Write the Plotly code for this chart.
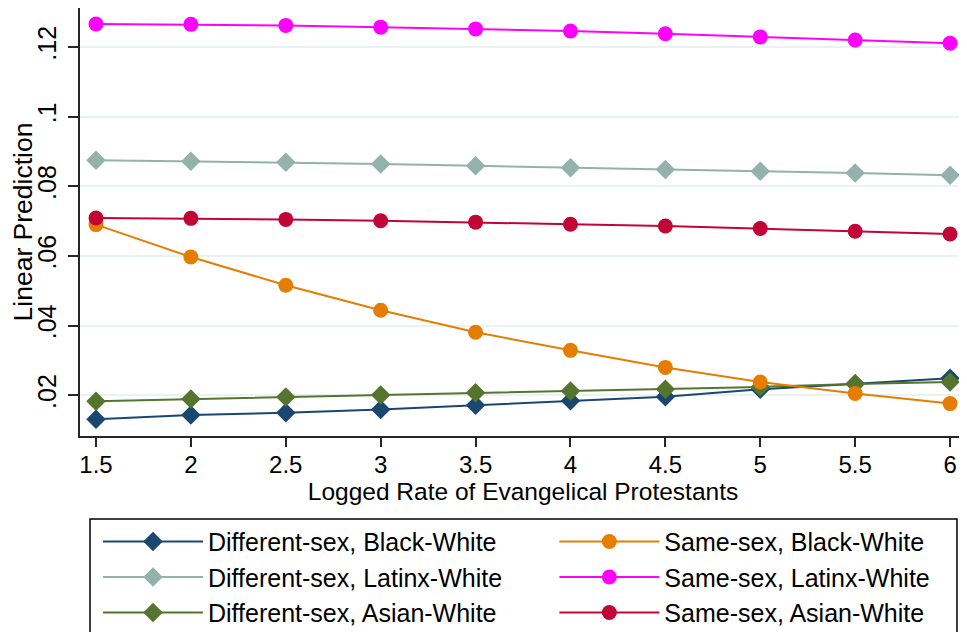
import plotly.graph_objects as go

# ---- data ----
x_vals = [1.5, 2, 2.5, 3, 3.5, 4, 4.5, 5, 5.5, 6]
diff_black = [0.0131, 0.0143, 0.0150, 0.0159, 0.0171, 0.0184, 0.0196, 0.0217, 0.0233, 0.0249]
diff_latinx = [0.0875, 0.0872, 0.0869, 0.0864, 0.0859, 0.0853, 0.0848, 0.0843, 0.0838, 0.0832]
diff_asian = [0.0183, 0.0189, 0.0195, 0.0201, 0.0207, 0.0212, 0.0217, 0.0224, 0.0232, 0.0238]
same_black = [0.0690, 0.0597, 0.0516, 0.0444, 0.0381, 0.0329, 0.0280, 0.0238, 0.0205, 0.0176]
same_latinx = [0.1266, 0.1265, 0.1262, 0.1257, 0.1252, 0.1246, 0.1238, 0.1229, 0.1220, 0.1211]
same_asian = [0.0709, 0.0708, 0.0705, 0.0701, 0.0697, 0.0691, 0.0686, 0.0679, 0.0671, 0.0663]

x_ticks = [1.5, 2, 2.5, 3, 3.5, 4, 4.5, 5, 5.5, 6]
x_tick_labels = ["1.5", "2", "2.5", "3", "3.5", "4", "4.5", "5", "5.5", "6"]
y_ticks = [0.02, 0.04, 0.06, 0.08, 0.10, 0.12]
y_tick_labels = [".02", ".04", ".06", ".08", ".1", ".12"]

series = [
    ("Different-sex, Black-White", diff_black, "#1a476f", "diamond", "legend"),
    ("Different-sex, Latinx-White", diff_latinx, "#93b2aa", "diamond", "legend"),
    ("Different-sex, Asian-White", diff_asian, "#55752f", "diamond", "legend"),
    ("Same-sex, Black-White", same_black, "#e57e00", "circle", "legend2"),
    ("Same-sex, Latinx-White", same_latinx, "#ff00ff", "circle", "legend2"),
    ("Same-sex, Asian-White", same_asian, "#c10534", "circle", "legend2"),
]

fig = go.Figure()
for name, vals, color, sym, leg in series:
    fig.add_trace(go.Scatter(
        x=x_vals, y=vals, name=name, mode="lines+markers",
        line=dict(color=color, width=2),
        marker=dict(symbol=sym, color=color, size=15),
        legend=leg, legendgroup=name, cliponaxis=False,
    ))

axis_color = "#262626"
leg_common = dict(y=-0.1933, xanchor="left", yanchor="top", orientation="v",
                  bgcolor="rgba(0,0,0,0)", borderwidth=0, itemwidth=100,
                  tracegroupgap=0, font=dict(size=25))
# page body adds an 8px offset, so the figure is 8px smaller than the window
fig.update_layout(
    width=959, height=624,
    margin=dict(l=72, r=1, t=0, b=196, autoexpand=False),
    plot_bgcolor="white", paper_bgcolor="white",
    font=dict(family="Liberation Sans, Arial, sans-serif", size=24, color="black"),
    legend=dict(x=0.0203, **leg_common),
    legend2=dict(x=0.5354, **leg_common),
    shapes=[dict(type="rect", xref="paper", yref="paper",
                 x0=0.0113, x1=0.9898, y0=-0.1939, y1=-0.48,
                 line=dict(color="black", width=1.5), fillcolor="rgba(0,0,0,0)")],
)
fig.update_xaxes(
    range=[1.4157, 6.084], tickvals=x_ticks, ticktext=x_tick_labels,
    showline=True, linecolor=axis_color, linewidth=1.5,
    ticks="outside", ticklen=9, tickwidth=1.5, tickcolor=axis_color,
    showgrid=False, zeroline=False, automargin=False,
    tickfont=dict(size=24), ticklabelstandoff=-3,
    title=dict(text="Logged Rate of Evangelical Protestants", standoff=0,
               font=dict(size=24.5)),
)
fig.update_yaxes(
    range=[0.0083, 0.1312], tickvals=y_ticks, ticktext=y_tick_labels,
    tickangle=-90, automargin=False,
    showline=True, linecolor=axis_color, linewidth=1.5,
    ticks="outside", ticklen=10, tickwidth=1.5, tickcolor=axis_color,
    showgrid=True, gridcolor="#eaf2f3", gridwidth=2, zeroline=False,
    tickfont=dict(size=25), ticklabelstandoff=2,
    title=dict(text="Linear Prediction", standoff=5, font=dict(size=26.5)),
)

fig.write_html("out.html")
